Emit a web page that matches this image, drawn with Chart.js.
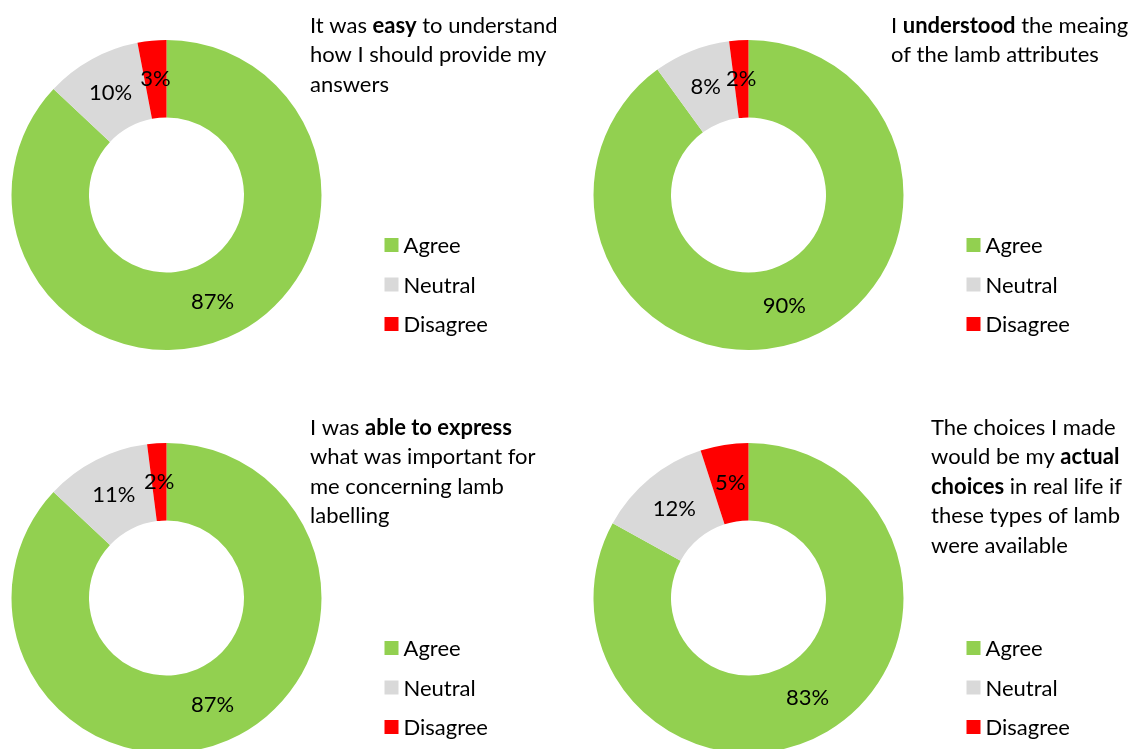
<!DOCTYPE html>
<html>
<head>
<meta charset="utf-8">
<script src="https://cdn.jsdelivr.net/npm/chart.js@4.4.1/dist/chart.umd.min.js"></script>
<style>
html, body { margin: 0; padding: 0; background: #fff; overflow: hidden; }
#wrap { position: relative; width: 1141px; height: 749px; overflow: hidden; }
canvas { position: absolute; }
</style>
</head>
<body>
<div id="wrap">
  <canvas id="easyChart" width="570" height="400" style="left:0px;top:0px"></canvas>
  <canvas id="meaningChart" width="571" height="400" style="left:570px;top:0px"></canvas>
  <canvas id="expressChart" width="570" height="400" style="left:0px;top:400px"></canvas>
  <canvas id="actualChart" width="571" height="400" style="left:570px;top:400px"></canvas>
</div>
<script>
// answer categories and shares (%) per statement
var categories = ["Agree", "Neutral", "Disagree"];
var easyValues = [87, 10, 3];
var meaningValues = [90, 8, 2];
var expressValues = [87, 11, 2];
var actualValues = [83, 12, 5];

var colors = ["#92d050", "#d9d9d9", "#ff0000"];
var FONT = "Lato, 'Open Sans', sans-serif";
var FONT_SIZE = 22;

// statement text, one array per line, [text, bold]
var easyTitle = [
    [["It was ", false], ["easy", true], [" to understand", false]],
    [["how I should provide my", false]],
    [["answers", false]]
];
var meaningTitle = [
    [["I ", false], ["understood", true], [" the meaing", false]],
    [["of the lamb attributes", false]]
];
var expressTitle = [
    [["I was ", false], ["able to express", true]],
    [["what was important for", false]],
    [["me concerning lamb", false]],
    [["labelling", false]]
];
var actualTitle = [
    [["The choices I made", false]],
    [["would be my ", false], ["actual", true]],
    [["choices", true], [" in real life if", false]],
    [["these types of lamb", false]],
    [["were available", false]]
];

// percent labels in the middle of each ring segment
var sliceLabels = {
    id: "sliceLabels",
    afterDatasetsDraw: function(chart) {
        var ctx = chart.ctx;
        var ds = chart.data.datasets[0];
        ctx.save();
        ctx.font = FONT_SIZE + "px " + FONT;
        ctx.fillStyle = "#000";
        ctx.textAlign = "center";
        ctx.textBaseline = "middle";
        chart.getDatasetMeta(0).data.forEach(function(arc, i) {
            var p = arc.getCenterPoint();
            ctx.fillText(ds.data[i] + "%", p.x, p.y);
        });
        ctx.restore();
    }
};

// statement text and legend beside the ring
var sideText = {
    id: "sideText",
    afterDraw: function(chart, args, opts) {
        var ctx = chart.ctx;
        ctx.save();
        ctx.fillStyle = "#000";
        ctx.textBaseline = "alphabetic";
        ctx.textAlign = "left";
        opts.lines.forEach(function(line, li) {
            var x = opts.titleX;
            var y = opts.titleY + li * 29.4;
            line.forEach(function(run) {
                ctx.font = (run[1] ? "bold " : "") + FONT_SIZE + "px " + FONT;
                ctx.fillText(run[0], x, y);
                x += ctx.measureText(run[0]).width;
            });
        });

        var area = chart.chartArea;
        var cx = (area.left + area.right) / 2;
        var cy = (area.top + area.bottom) / 2;
        var ds = chart.data.datasets[0];
        ctx.font = FONT_SIZE + "px " + FONT;
        ctx.textBaseline = "middle";
        chart.data.labels.forEach(function(label, i) {
            var y = cy + 50 + i * 39.5;
            var x = cx + 218;
            ctx.fillStyle = ds.backgroundColor[i];
            ctx.fillRect(x, y - 7, 14, 14);
            ctx.fillStyle = "#000";
            ctx.fillText(label, x + 19, y + 1);
        });
        ctx.restore();
    }
};

function makeChart(id, values, lines, pad, titleX, titleY) {
    var canvas = document.getElementById(id);
    return new Chart(canvas, {
        type: "doughnut",
        data: {
            labels: categories,
            datasets: [{
                data: values,
                backgroundColor: colors,
                borderWidth: 0
            }]
        },
        options: {
            responsive: false,
            animation: false,
            devicePixelRatio: 1,
            cutout: "50%",
            layout: { padding: pad },
            plugins: {
                legend: { display: false },
                tooltip: { enabled: false },
                sideText: { lines: lines, titleX: titleX, titleY: titleY }
            }
        },
        plugins: [sliceLabels, sideText]
    });
}

makeChart("easyChart", easyValues, easyTitle,
    { left: 11.5, top: 40, right: 570 - 321.5, bottom: 400 - 350 }, 310, 33);
makeChart("meaningChart", meaningValues, meaningTitle,
    { left: 23.5, top: 40, right: 571 - 333.5, bottom: 400 - 350 }, 321, 33);
makeChart("expressChart", expressValues, expressTitle,
    { left: 11.5, top: 43, right: 570 - 321.5, bottom: 400 - 353 }, 310, 35);
makeChart("actualChart", actualValues, actualTitle,
    { left: 23.5, top: 43, right: 571 - 333.5, bottom: 400 - 353 }, 361, 35);
</script>
</body>
</html>
